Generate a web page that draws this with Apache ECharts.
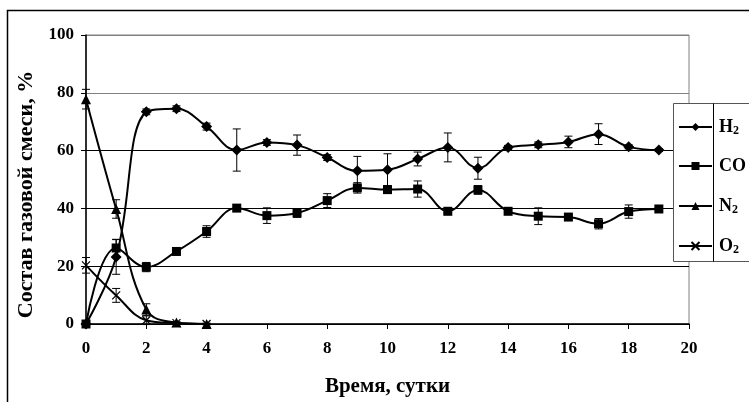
<!DOCTYPE html>
<html>
<head>
<meta charset="utf-8">
<script src="https://cdn.jsdelivr.net/npm/echarts@6/dist/echarts.min.js"></script>
<style>
  html, body { margin: 0; padding: 0; background: #fff; }
  #chart { width: 749px; height: 402px; }
</style>
</head>
<body>
<div id="chart"></div>
<script>
// время, сутки
const days = [0, 1, 2, 3, 4, 5, 6, 7, 8, 9, 10, 11, 12, 13, 14, 15, 16, 17, 18, 19];
const daysShort = [0, 1, 2, 3, 4];

// состав газовой смеси, %
const h2 = [0, 23.2, 73.4, 74.5, 68.3, 60.2, 62.8, 61.9, 57.6, 53.0, 53.4, 57.1, 61.1, 53.9, 61.1, 62.0, 63.0, 65.7, 61.3, 60.2];
const co = [0, 26.3, 19.7, 25.1, 32.0, 40.1, 37.5, 38.4, 42.7, 47.1, 46.5, 46.7, 39.0, 46.4, 39.0, 37.3, 37.0, 34.7, 38.9, 39.8];
const n2 = [77.8, 39.8, 5.0, 0.5, 0];
const o2 = [20.3, 9.9, 1.3, 0.3, 0];

// погрешности (±)
const h2Err = [0, 6, 1, 1, 1.2, 7.3, 1, 3.5, 1, 5, 5.5, 2.4, 5, 3.8, 0.7, 1, 2, 3.6, 0.7, 0.5];
const coErr = [0, 3, 1.6, 0.6, 2, 1, 2.7, 1.5, 2.4, 1.8, 1, 2.8, 0.5, 1.5, 0.5, 2.9, 0.5, 1.8, 2.3, 0.5];
const n2Err = [3.4, 3.2, 2, 0.3, 0.3];
const o2Err = [2.7, 2.4, 1.5, 0.3, 0.2];

const names = ['H2', 'CO', 'N2', 'O2'];
const font = 'Liberation Serif';

function pts(xs, ys) {
  return xs.map((x, i) => [x, ys[i]]);
}
function errPts(xs, ys, es) {
  return xs.map((x, i) => [x, ys[i] - es[i], ys[i] + es[i]]).filter((d, i) => es[i] > 0);
}

function renderErr(params, api) {
  const x = api.value(0);
  const top = api.coord([x, api.value(2)]);
  const bot = api.coord([x, api.value(1)]);
  const w = 4;
  const st = { stroke: '#000', lineWidth: 1 };
  return {
    type: 'group',
    children: [
      { type: 'line', shape: { x1: top[0], y1: top[1], x2: bot[0], y2: bot[1] }, style: st },
      { type: 'line', shape: { x1: top[0] - w, y1: top[1], x2: top[0] + w, y2: top[1] }, style: st },
      { type: 'line', shape: { x1: bot[0] - w, y1: bot[1], x2: bot[0] + w, y2: bot[1] }, style: st }
    ]
  };
}

function lineSeries(name, data, symbol, size, extra) {
  return Object.assign({
    name: name,
    type: 'line',
    data: data,
    smooth: 0.4,
    symbol: symbol,
    symbolSize: size,
    z: 3,
    lineStyle: { color: '#000', width: 2 },
    itemStyle: { color: '#000' }
  }, extra || {});
}

function errSeries(data) {
  return {
    type: 'custom',
    renderItem: renderErr,
    data: data,
    z: 2,
    silent: true
  };
}

const crossPath = 'path://M0,0L10,10M10,0L0,10';

const option = {
  animation: false,
  backgroundColor: '#fff',
  textStyle: { fontFamily: font },
  grid: {
    left: 86, right: 60, top: 35, bottom: 76,
    show: true, borderColor: '#808080', borderWidth: 1
  },
  xAxis: {
    type: 'value',
    min: 0, max: 20, interval: 2,
    name: 'Время, сутки',
    nameLocation: 'middle',
    nameGap: 52,
    nameTextStyle: { fontFamily: font, fontWeight: 'bold', fontSize: 21, color: '#000' },
    axisLine: { show: true, lineStyle: { color: '#000', width: 1.5 } },
    axisTick: { show: true, length: 5, lineStyle: { color: '#000' } },
    axisLabel: { margin: 16, fontFamily: font, fontWeight: 'bold', fontSize: 17, color: '#000' },
    splitLine: { show: false }
  },
  yAxis: {
    type: 'value',
    min: 0, max: 100, interval: 20,
    name: 'Состав газовой смеси, %',
    nameLocation: 'middle',
    nameGap: 44,
    nameTextStyle: {
      fontFamily: font, fontWeight: 'bold', fontSize: 22, color: '#000',
      padding: [0, 30, 0, 0]
    },
    axisLine: { show: true, lineStyle: { color: '#000', width: 1.5 } },
    axisTick: { show: true, length: 5, lineStyle: { color: '#000' } },
    axisLabel: { margin: 12, fontFamily: font, fontWeight: 'bold', fontSize: 17, color: '#000' },
    splitLine: {
      show: true,
      lineStyle: { color: ['#000', '#000', '#000', '#000', '#808080', '#808080'], width: 1.2 }
    }
  },
  legend: {
    orient: 'vertical',
    left: 673,
    top: 111,
    itemWidth: 33,
    itemHeight: 10,
    itemGap: 19,
    data: names,
    formatter: n => n.replace(/(\d)/, '{s|$1}'),
    textStyle: {
      fontFamily: font, fontWeight: 'bold', fontSize: 18, color: '#000', lineHeight: 20,
      padding: [0, 0, 0, 2],
      rich: {
        s: { fontFamily: font, fontWeight: 'bold', fontSize: 12, color: '#000', verticalAlign: 'bottom', lineHeight: 20, padding: [9, 0, 0, 0] }
      }
    }
  },
  graphic: [
    {
      type: 'rect', z: 0, silent: true,
      shape: { x: 7.5, y: 10.5, width: 900, height: 600 },
      style: { fill: 'none', stroke: '#000', lineWidth: 1.5 }
    },
    {
      type: 'rect', z: 3, silent: true,
      shape: { x: 673.5, y: 103.5, width: 120, height: 158 },
      style: { fill: '#fff', stroke: '#555', lineWidth: 1 }
    },
    {
      type: 'line', z: 3, silent: true,
      shape: { x1: 713.5, y1: 103.5, x2: 713.5, y2: 261.5 },
      style: { stroke: '#000', lineWidth: 1 }
    }
  ],
  series: [
    lineSeries('H2', pts(days, h2), 'diamond', 11),
    lineSeries('CO', pts(days, co), 'rect', 9),
    lineSeries('N2', pts(daysShort, n2), 'triangle', 10),
    lineSeries('O2', pts(daysShort, o2), crossPath, 8, {
      itemStyle: { color: '#000', borderColor: '#000', borderWidth: 1.2 }
    }),
    errSeries(errPts(days, h2, h2Err)),
    errSeries(errPts(days, co, coErr)),
    errSeries(errPts(daysShort, n2, n2Err)),
    errSeries(errPts(daysShort, o2, o2Err))
  ]
};

const myChart = echarts.init(document.getElementById('chart'));
myChart.setOption(option);
</script>
</body>
</html>
